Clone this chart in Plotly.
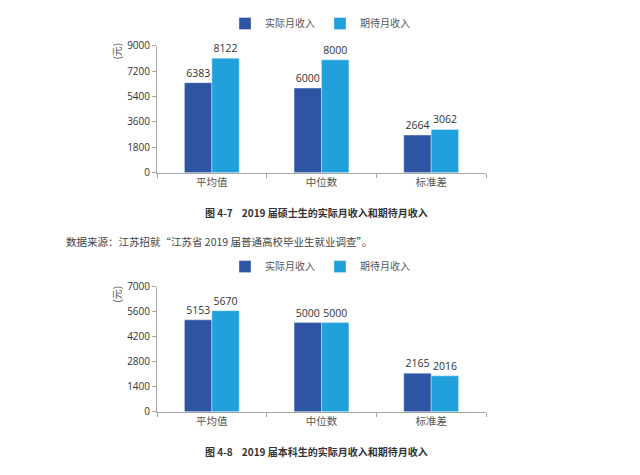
import plotly.graph_objects as go

categories = ["平均值", "中位数", "标准差"]
series_names = ["实际月收入", "期待月收入"]

master_actual = [6383, 6000, 2664]
master_expected = [8122, 8000, 3062]

bachelor_actual = [5153, 5000, 2165]
bachelor_expected = [5670, 5000, 2016]

top_ticks = [0, 1800, 3600, 5400, 7200, 9000]
bottom_ticks = [0, 1400, 2800, 4200, 5600, 7000]

caption_top = "图 4-7    2019 届硕士生的实际月收入和期待月收入"
caption_bottom = "图 4-8    2019 届本科生的实际月收入和期待月收入"
source_text = "数据来源：江苏招就“江苏省 2019 届普通高校毕业生就业调查”。"
unit_label = "(元)"

DARK = "#2E55A3"
LIGHT = "#21A1DB"
W, H = 640, 475

def px_x(x):
    return x / W

def px_y(y):
    return 1 - y / H

num_font = dict(family="Open Sans, Liberation Sans, sans-serif", size=10, color="#333333")
cjk_font = dict(family="Noto Sans CJK SC", size=10.5, color="#555555")

fig = go.Figure()

for (act, exp, xa, ya, lg) in [
    (master_actual, master_expected, "x", "y", "legend"),
    (bachelor_actual, bachelor_expected, "x2", "y2", "legend2"),
]:
    for name, vals, col in [(series_names[0], act, DARK), (series_names[1], exp, LIGHT)]:
        fig.add_trace(go.Bar(
            x=categories, y=vals, name=name, marker=dict(color=col, line=dict(width=0.6, color="rgba(255,255,255,0.6)")),
            text=[str(v) for v in vals], textposition="outside",
            textfont=dict(family="Open Sans, sans-serif", size=10.5, color="#333333"),
            cliponaxis=False, xaxis=xa, yaxis=ya, legend=lg,
        ))

axis_common_x = dict(
    type="category", showline=True, linecolor="#A6A6A6", linewidth=1,
    ticks="outside", tickson="boundaries", ticklen=4, tickcolor="#A6A6A6",
    tickfont=cjk_font, showgrid=False, zeroline=False, fixedrange=True,
)
axis_common_y = dict(
    showline=True, linecolor="#A6A6A6", linewidth=1, ticks="outside", ticklen=4,
    tickcolor="#A6A6A6", tickfont=num_font, showgrid=False, zeroline=False,
)

fig.update_layout(
    width=W, height=H,
    margin=dict(l=0, r=0, t=0, b=0),
    paper_bgcolor="white", plot_bgcolor="white",
    barmode="group", bargap=0.5, bargroupgap=0,
    xaxis=dict(domain=[px_x(157), px_x(486)], anchor="y", **axis_common_x),
    yaxis=dict(domain=[px_y(170), px_y(39)], anchor="x", range=[0, 9000],
               tickvals=top_ticks, **axis_common_y),
    xaxis2=dict(domain=[px_x(157), px_x(486)], anchor="y2", **axis_common_x),
    yaxis2=dict(domain=[px_y(417), px_y(288)], anchor="x2", range=[0, 7000],
                tickvals=bottom_ticks, **axis_common_y),
    legend=dict(orientation="h", x=0.5, xanchor="center", y=px_y(16), yanchor="middle",
                font=dict(family="Noto Sans CJK SC", size=10, color="#555555"),
                itemwidth=30, tracegroupgap=0),
    legend2=dict(orientation="h", x=0.5, xanchor="center", y=px_y(267), yanchor="middle",
                 font=dict(family="Noto Sans CJK SC", size=10, color="#555555"),
                 itemwidth=30, tracegroupgap=0),
    showlegend=True,
)

annotations = [
    dict(text=unit_label, x=px_x(117), y=px_y(45), textangle=-90),
    dict(text=unit_label, x=px_x(117), y=px_y(296), textangle=-90),
]
for a in annotations:
    a.update(xref="paper", yref="paper", showarrow=False, xanchor="center", yanchor="middle",
             font=dict(family="Noto Sans CJK SC", size=10, color="#555555"))
    fig.add_annotation(**a)

for cap, yy in [(caption_top, 211), (caption_bottom, 458)]:
    fig.add_annotation(text="<b>" + cap + "</b>", xref="paper", yref="paper",
                       x=px_x(316), y=px_y(yy), showarrow=False, xanchor="center", yanchor="middle",
                       font=dict(family="Noto Sans CJK SC", size=10, color="#333333"))

fig.add_annotation(text=source_text, xref="paper", yref="paper", x=px_x(64), y=px_y(241),
                   showarrow=False, xanchor="left", yanchor="middle",
                   font=dict(family="Noto Sans CJK SC", size=10.5, color="#444444"))

fig.write_html("out.html")
